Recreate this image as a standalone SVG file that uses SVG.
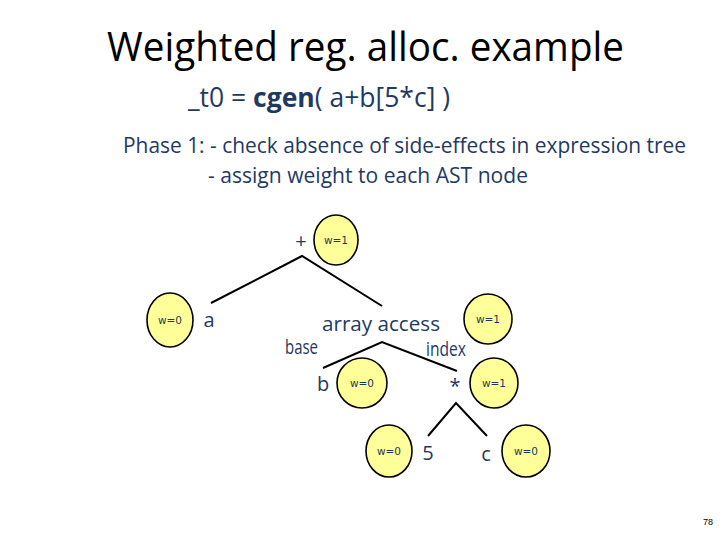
<svg xmlns="http://www.w3.org/2000/svg" width="720" height="540" viewBox="0 0 720 540">
<style>
.t{font-family:"Open Sans","Noto Sans","Liberation Sans",sans-serif;}
.blue{fill:#1F3A60;}
.lbl{font-family:"Open Sans","Noto Sans","Liberation Sans",sans-serif;fill:#1F3A60;font-size:20px;}
.w ellipse{fill:#FFFF99;stroke:#000;stroke-width:1.6;}
.w text{font-family:"DejaVu Sans","Liberation Sans",sans-serif;font-size:10.5px;fill:#1F3A50;text-anchor:middle;}
.edge{stroke:#000;stroke-width:2;fill:none;}
</style>
<rect width="720" height="540" fill="#fff"/>
<text class="t" x="107" y="61" font-size="41" fill="#000" textLength="517" lengthAdjust="spacingAndGlyphs">Weighted reg. alloc. example</text>
<text class="t blue" x="188" y="107" font-size="27" textLength="262" lengthAdjust="spacingAndGlyphs">_t0 = <tspan font-weight="bold">cgen</tspan>( a+b[5*c] )</text>
<text class="t blue" x="123" y="153" font-size="21" textLength="563" lengthAdjust="spacingAndGlyphs">Phase 1: - check absence of side-effects in expression tree</text>
<text class="t blue" x="208" y="183" font-size="21" textLength="320" lengthAdjust="spacingAndGlyphs">- assign weight to each AST node</text>
<g id="edges">
<path class="edge" d="M211,303 L302,256 L382,306"/>
<path class="edge" d="M323,368 L382,342 L457,371"/>
<path class="edge" d="M428,436 L456,403 L487,436"/>
</g>
<g id="n-plus"><text class="lbl" x="301" y="248" text-anchor="middle">+</text></g>
<g id="n-a"><text class="lbl" x="209" y="327" text-anchor="middle">a</text></g>
<g id="n-array"><text class="lbl" x="322" y="331" textLength="118" lengthAdjust="spacingAndGlyphs">array access</text></g>
<g id="l-base"><text class="lbl" x="285" y="354" font-size="15" textLength="33" lengthAdjust="spacingAndGlyphs">base</text></g>
<g id="l-index"><text class="lbl" x="426" y="356" font-size="15" textLength="40" lengthAdjust="spacingAndGlyphs">index</text></g>
<g id="n-b"><text class="lbl" x="323" y="391" text-anchor="middle">b</text></g>
<g id="n-mul"><text class="lbl" x="455" y="393" text-anchor="middle" font-size="18">*</text></g>
<g id="n-5"><text class="lbl" x="428" y="460" text-anchor="middle">5</text></g>
<g id="n-c"><text class="lbl" x="486" y="461" text-anchor="middle">c</text></g>
<g id="w-plus" class="w"><ellipse cx="336" cy="240" rx="22" ry="25"/><text x="336" y="244">w=1</text></g>
<g id="w-a" class="w"><ellipse cx="170" cy="320" rx="23" ry="27"/><text x="170" y="324">w=0</text></g>
<g id="w-array" class="w"><ellipse cx="488" cy="319" rx="24" ry="25"/><text x="488" y="323">w=1</text></g>
<g id="w-mul" class="w"><ellipse cx="494" cy="383" rx="24" ry="25"/><text x="494" y="387">w=1</text></g>
<g id="w-b" class="w"><ellipse cx="362" cy="383" rx="25" ry="25"/><text x="362" y="387">w=0</text></g>
<g id="w-5" class="w"><ellipse cx="389" cy="451" rx="23" ry="26"/><text x="389" y="455">w=0</text></g>
<g id="w-c" class="w"><ellipse cx="526" cy="451" rx="24" ry="26"/><text x="526" y="455">w=0</text></g>
<text x="708" y="525" font-family="Liberation Sans,sans-serif" font-size="9" fill="#000" text-anchor="middle">78</text>
</svg>
